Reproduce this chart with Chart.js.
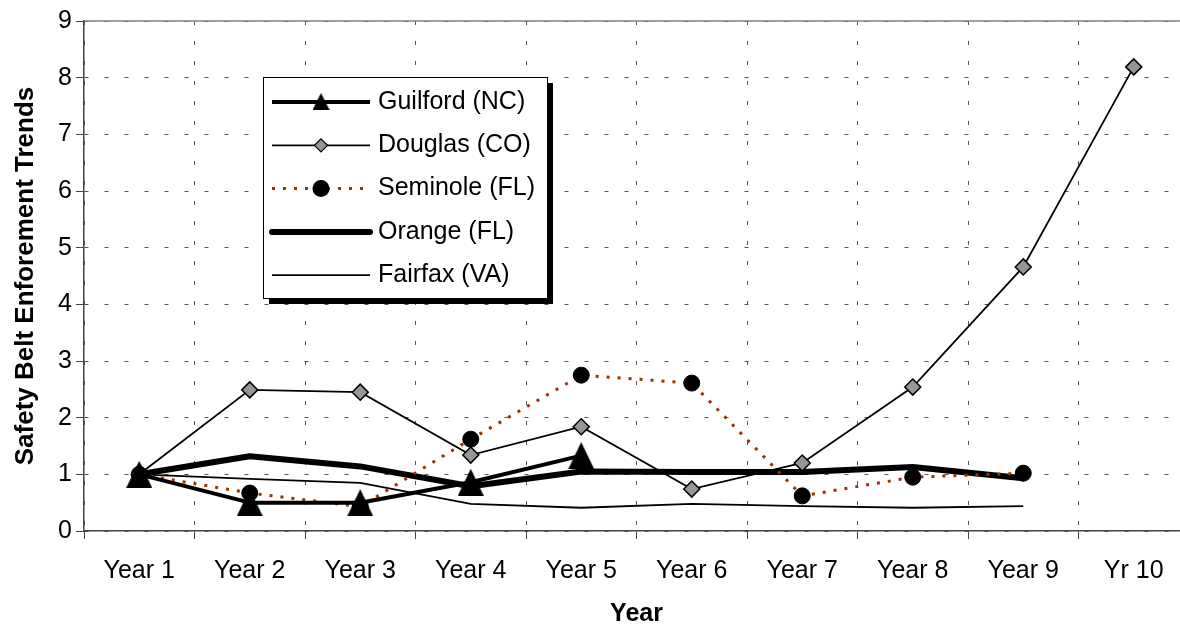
<!DOCTYPE html>
<html>
<head>
<meta charset="utf-8">
<title>Safety Belt Enforement Trends</title>
<script src="https://cdn.jsdelivr.net/npm/chart.js@4.4.1/dist/chart.umd.min.js"></script>
<style>
    html, body {
        margin: 0;
        padding: 0;
        background: #fff;
    }
    #wrap {
        width: 1180px;
        height: 633px;
        overflow: hidden;
    }
</style>
</head>
<body>
<div id="wrap">
    <canvas id="trendChart" width="1206" height="633"></canvas>
</div>
<script>
// Values.
const categories = ["Year 1", "Year 2", "Year 3", "Year 4", "Year 5", "Year 6", "Year 7", "Year 8", "Year 9", "Yr 10"];
const guilford = [1.0, 0.5, 0.5, 0.86, 1.33, null, null, null, null, null];
const douglas = [1.0, 2.49, 2.45, 1.34, 1.84, 0.74, 1.2, 2.54, 4.66, 8.19];
const seminole = [1.0, 0.67, 0.43, 1.62, 2.75, 2.61, 0.62, 0.95, 1.02, null];
const orange = [1.0, 1.32, 1.14, 0.79, 1.05, 1.04, 1.04, 1.13, 0.93, null];
const fairfax = [1.0, 0.92, 0.85, 0.48, 0.41, 0.48, 0.44, 0.41, 0.44, null];
const yTickValues = [0, 1, 2, 3, 4, 5, 6, 7, 8, 9];

const FONT = "'Liberation Sans', Arial, sans-serif";
const BROWN = "#993300";

// Excel style triangle, centred on its bounding box.
function makeTriangle(w, h) {
    const c = document.createElement("canvas");
    c.width = w;
    c.height = h;
    const g = c.getContext("2d");
    g.fillStyle = "#000";
    g.beginPath();
    g.moveTo(w / 2, 0);
    g.lineTo(w, h);
    g.lineTo(0, h);
    g.closePath();
    g.fill();
    return c;
}

const bigTriangle = makeTriangle(26, 27);
const smallTriangle = makeTriangle(17, 17);

// Boxed legend with a drop shadow, drawn by hand like the Excel one.
const boxLegend = {
    id: "boxLegend",
    afterDraw(chart) {
        const ctx = chart.ctx;
        const area = chart.chartArea;

        ctx.save();
        ctx.strokeStyle = "#808080";
        ctx.lineWidth = 1.5;
        ctx.beginPath();
        ctx.moveTo(area.left, area.top);
        ctx.lineTo(area.right, area.top);
        ctx.stroke();

        const bx = 263, by = 77, bw = 284, bh = 221;
        ctx.fillStyle = "#000";
        ctx.fillRect(bx + 6, by + 6, bw, bh);
        ctx.fillStyle = "#fff";
        ctx.fillRect(bx, by, bw, bh);
        ctx.strokeStyle = "#000";
        ctx.lineWidth = 1;
        ctx.strokeRect(bx + 0.5, by + 0.5, bw, bh);

        chart.data.datasets.forEach((ds, i) => {
            const y = by + 25 + i * 43.3;
            ctx.save();
            ctx.strokeStyle = ds.borderColor;
            ctx.lineWidth = ds.borderWidth;
            ctx.setLineDash(ds.borderDash || []);
            ctx.lineCap = ds.borderCapStyle || "butt";
            ctx.beginPath();
            ctx.moveTo(272, y);
            ctx.lineTo(370, y);
            ctx.stroke();
            ctx.setLineDash([]);

            const mx = 321;
            if (i === 0) {
                ctx.drawImage(smallTriangle, mx - 8.5, y - 9);
            } else if (i === 1) {
                ctx.fillStyle = "#969696";
                ctx.strokeStyle = "#000";
                ctx.lineWidth = 1.2;
                ctx.beginPath();
                ctx.moveTo(mx, y - 6.5);
                ctx.lineTo(mx + 6.5, y);
                ctx.lineTo(mx, y + 6.5);
                ctx.lineTo(mx - 6.5, y);
                ctx.closePath();
                ctx.fill();
                ctx.stroke();
            } else if (i === 2) {
                ctx.fillStyle = "#000";
                ctx.beginPath();
                ctx.arc(mx, y, 8.5, 0, Math.PI * 2);
                ctx.fill();
            }

            ctx.fillStyle = "#000";
            ctx.font = "25px " + FONT;
            ctx.textBaseline = "middle";
            ctx.textAlign = "left";
            ctx.fillText(ds.label, 378, y);
            ctx.restore();
        });
        ctx.restore();
    }
};

document.addEventListener("DOMContentLoaded", () => {
    const canvas = document.getElementById("trendChart");
    const ctx = canvas.getContext("2d");

    new Chart(ctx, {
        type: "line",
        data: {
            labels: categories,
            datasets: [
                {
                    label: "Guilford (NC)",
                    data: guilford,
                    borderColor: "#000",
                    borderWidth: 4,
                    borderJoinStyle: "round",
                    pointStyle: bigTriangle,
                    pointRadius: 13,
                    backgroundColor: "#000"
                },
                {
                    label: "Douglas (CO)",
                    data: douglas,
                    borderColor: "#000",
                    borderWidth: 1.8,
                    pointStyle: "rectRot",
                    pointRadius: 8,
                    pointBorderWidth: 1.5,
                    pointBackgroundColor: "#969696",
                    pointBorderColor: "#000"
                },
                {
                    label: "Seminole (FL)",
                    data: seminole,
                    borderColor: BROWN,
                    borderWidth: 3,
                    borderDash: [3, 8],
                    pointStyle: "circle",
                    pointRadius: 8,
                    pointBorderWidth: 1,
                    pointBackgroundColor: "#000",
                    pointBorderColor: "#000"
                },
                {
                    label: "Orange (FL)",
                    data: orange,
                    borderColor: "#000",
                    borderWidth: 6,
                    borderJoinStyle: "round",
                    borderCapStyle: "round",
                    pointRadius: 0
                },
                {
                    label: "Fairfax (VA)",
                    data: fairfax,
                    borderColor: "#000",
                    borderWidth: 1.8,
                    pointRadius: 0
                }
            ]
        },
        options: {
            responsive: false,
            animation: false,
            events: [],
            devicePixelRatio: 1,
            layout: {
                padding: { top: 21, right: 7, left: 0, bottom: 0 }
            },
            plugins: {
                legend: { display: false },
                tooltip: { enabled: false }
            },
            scales: {
                x: {
                    type: "category",
                    offset: true,
                    grid: {
                        offset: true,
                        color: "#555",
                        lineWidth: 1,
                        tickLength: 8,
                        tickColor: "#444",
                        tickBorderDash: []
                    },
                    border: { color: "#444", width: 1.5, dash: [4, 16] },
                    ticks: {
                        padding: 17,
                        color: "#000",
                        autoSkip: false,
                        maxRotation: 0,
                        font: { family: FONT, size: 25 }
                    },
                    title: {
                        display: true,
                        text: "Year",
                        color: "#000",
                        font: { family: FONT, size: 25, weight: "bold" },
                        padding: { top: 0, bottom: 4 }
                    },
                    afterFit: (scale) => {
                        scale.height = 102;
                    }
                },
                y: {
                    min: 0,
                    max: 9,
                    grid: {
                        color: "#555",
                        lineWidth: 1,
                        tickLength: 8,
                        tickColor: "#444",
                        tickBorderDash: []
                    },
                    border: { color: "#444", width: 1.5, dash: [4, 16] },
                    ticks: {
                        padding: 4,
                        color: "#000",
                        font: { family: FONT, size: 25 }
                    },
                    afterBuildTicks: (scale) => {
                        scale.ticks = yTickValues.map((v) => ({ value: v }));
                    },
                    title: {
                        display: true,
                        text: "Safety Belt Enforement Trends",
                        color: "#000",
                        font: { family: FONT, size: 26, weight: "bold" },
                        padding: { top: 10, bottom: 0 }
                    },
                    afterFit: (scale) => {
                        scale.width = 84;
                    }
                }
            }
        },
        plugins: [boxLegend]
    });
});
</script>
</body>
</html>
